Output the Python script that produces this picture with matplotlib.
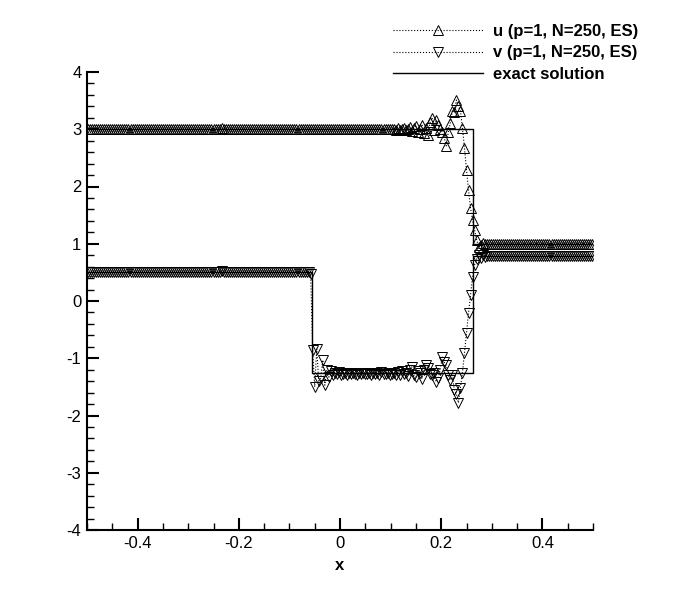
#!/usr/bin/env python3
"""
Riemann problem result: u and v from the ES scheme (p=1, N=250)
plotted against the exact solution.
"""
import numpy as np
import matplotlib
matplotlib.use('Agg')
import matplotlib.pyplot as plt
from matplotlib.ticker import MultipleLocator

# cell centres of the 250-cell grid on [-0.5, 0.5]
n_cells = 250
x = -0.5 + (np.arange(n_cells) + 0.5) / n_cells

# numerical u (10 values per row)
u_num = [
    3.0, 3.0, 3.0, 3.0, 3.0, 3.0, 3.0, 3.0, 3.0, 3.0,
    3.0, 3.0, 3.0, 3.0, 3.0, 3.0, 3.0, 3.0, 3.0, 3.0,
    3.0, 3.0, 3.0, 3.0, 3.0, 3.0, 3.0, 3.0, 3.0, 3.0,
    3.0, 3.0, 3.0, 3.0, 3.0, 3.0, 3.0, 3.0, 3.0, 3.0,
    3.0, 3.0, 3.0, 3.0, 3.0, 3.0, 3.0, 3.0, 3.0, 3.0,
    3.0, 3.0, 3.0, 3.0, 3.0, 3.0, 3.0, 3.0, 3.0, 3.0,
    3.0, 3.0, 3.0, 3.0, 3.0, 3.0, 3.03, 3.0, 3.0, 3.0,
    3.0, 3.0, 3.0, 3.0, 3.0, 3.0, 3.0, 3.0, 3.0, 3.0,
    3.0, 3.0, 3.0, 3.0, 3.0, 3.0, 3.0, 3.0, 3.0, 3.0,
    3.0, 3.0, 3.0, 3.0, 3.0, 3.0, 3.0, 3.0, 3.0, 3.0,
    3.0, 3.0, 3.0, 3.0, 3.0, 3.0, 3.0, 3.0, 3.0, 3.0,
    3.0, 3.0, 3.0, 3.0, 3.0, 3.0, 3.0, 3.0, 3.0, 3.0,
    3.0, 3.0, 3.0, 3.0, 3.0, 3.0, 3.0, 3.0, 3.0, 3.0,
    3.0, 3.0, 3.0, 3.0, 3.0, 3.0, 3.0, 3.0, 3.0, 3.0,
    3.0, 3.0, 3.0, 3.0, 3.0, 3.0, 3.0, 3.0, 3.0, 3.0,
    3.0, 3.01, 2.99, 3.02, 2.98, 3.01, 3.03, 2.98, 3.0, 3.04,
    2.97, 3.02, 3.05, 2.96, 3.0, 3.08, 2.94, 3.02, 2.9, 3.12,
    3.2, 2.98, 3.16, 3.07, 3.0, 2.95, 2.85, 2.71, 2.95, 3.11,
    3.32, 3.3, 3.51, 3.4, 3.32, 3.02, 2.67, 2.29, 1.94, 1.62,
    1.41, 1.24, 1.07, 0.95, 0.98, 1.02, 0.99, 1.0, 1.0, 1.0,
    1.0, 1.0, 1.0, 1.0, 1.0, 1.0, 1.0, 1.0, 1.0, 1.0,
    1.0, 1.0, 1.0, 1.0, 1.0, 1.0, 1.0, 1.0, 1.0, 1.0,
    1.0, 1.0, 1.0, 1.0, 1.0, 1.0, 1.0, 1.0, 1.0, 1.0,
    1.0, 1.0, 1.0, 1.0, 1.0, 1.0, 1.0, 1.0, 1.0, 1.0,
    1.0, 1.0, 1.0, 1.0, 1.0, 1.0, 1.0, 1.0, 1.0, 1.0,
]

# numerical v
v_num = [
    0.5, 0.5, 0.5, 0.5, 0.5, 0.5, 0.5, 0.5, 0.5, 0.5,
    0.5, 0.5, 0.5, 0.5, 0.5, 0.5, 0.5, 0.5, 0.5, 0.5,
    0.5, 0.5, 0.5, 0.5, 0.5, 0.5, 0.5, 0.5, 0.5, 0.5,
    0.5, 0.5, 0.5, 0.5, 0.5, 0.5, 0.5, 0.5, 0.5, 0.5,
    0.5, 0.5, 0.5, 0.5, 0.5, 0.5, 0.5, 0.5, 0.5, 0.5,
    0.5, 0.5, 0.5, 0.5, 0.5, 0.5, 0.5, 0.5, 0.5, 0.5,
    0.5, 0.5, 0.5, 0.5, 0.5, 0.5, 0.52, 0.5, 0.5, 0.5,
    0.5, 0.5, 0.5, 0.5, 0.5, 0.5, 0.5, 0.5, 0.5, 0.5,
    0.5, 0.5, 0.5, 0.5, 0.5, 0.5, 0.5, 0.5, 0.5, 0.5,
    0.5, 0.5, 0.5, 0.5, 0.5, 0.5, 0.5, 0.5, 0.5, 0.5,
    0.5, 0.5, 0.5, 0.5, 0.5, 0.5, 0.5, 0.5, 0.5, 0.5,
    0.48, -0.86, -1.5, -0.84, -1.4, -1.35, -1.03, -1.47, -1.2, -1.33,
    -1.22, -1.3, -1.26, -1.28, -1.24, -1.3, -1.27, -1.25, -1.29, -1.26,
    -1.28, -1.25, -1.27, -1.3, -1.26, -1.27, -1.25, -1.28, -1.27, -1.26,
    -1.29, -1.25, -1.27, -1.26, -1.3, -1.24, -1.28, -1.27, -1.25, -1.3,
    -1.27, -1.25, -1.29, -1.24, -1.3, -1.23, -1.28, -1.26, -1.31, -1.2,
    -1.15, -1.3, -1.33, -1.22, -1.25, -1.36, -1.2, -1.12, -1.17, -1.27,
    -1.3, -1.26, -1.41, -1.34, -1.2, -0.98, -1.07, -1.12, -1.29, -1.38,
    -1.3, -1.55, -1.62, -1.78, -1.52, -1.25, -0.91, -0.56, -0.21, 0.1,
    0.42, 0.63, 0.73, 0.8, 0.75, 0.8, 0.77, 0.78, 0.78, 0.78,
    0.78, 0.78, 0.78, 0.78, 0.78, 0.78, 0.78, 0.78, 0.78, 0.78,
    0.78, 0.78, 0.78, 0.78, 0.78, 0.78, 0.78, 0.78, 0.78, 0.78,
    0.78, 0.78, 0.78, 0.78, 0.78, 0.78, 0.78, 0.78, 0.78, 0.78,
    0.78, 0.78, 0.78, 0.78, 0.78, 0.78, 0.78, 0.78, 0.78, 0.78,
    0.78, 0.78, 0.78, 0.78, 0.78, 0.78, 0.78, 0.78, 0.78, 0.78,
]

# exact solution (piecewise constant)
u_exact_x = [-0.5, 0.2624, 0.2624, 0.5]
u_exact = [3.0, 3.0, 1.0, 1.0]
v_exact_x = [-0.5, -0.056, -0.056, 0.2624, 0.2624, 0.5]
v_exact = [0.5, 0.5, -1.25, -1.25, 0.78, 0.78]

plt.rcParams['font.family'] = ['Liberation Sans', 'DejaVu Sans']

fig = plt.figure(figsize=(6.73, 5.98), dpi=100)
ax = fig.add_axes([87 / 673, 1 - 530 / 598, (593 - 87) / 673, (530 - 72) / 598])

mk = dict(markersize=7, markerfacecolor='none', markeredgecolor='black',
          markeredgewidth=0.7, color='black', linestyle=':', linewidth=0.8)
ax.plot(x, u_num, marker='^', label='u (p=1, N=250, ES)', **mk)
ax.plot(x, v_num, marker='v', label='v (p=1, N=250, ES)', **mk)
ax.plot(u_exact_x, u_exact, color='black', linewidth=1.0, label='exact solution')
ax.plot(v_exact_x, v_exact, color='black', linewidth=1.0)

ax.set_xlim(-0.5, 0.5)
ax.set_ylim(-4, 4)
ax.xaxis.set_minor_locator(MultipleLocator(0.05))
ax.yaxis.set_minor_locator(MultipleLocator(0.2))
ax.set_xticks([-0.4, -0.2, 0, 0.2, 0.4])
ax.set_xticklabels(['-0.4', '-0.2', '0', '0.2', '0.4'])
ax.set_yticks(range(-4, 5))
ax.set_yticklabels([str(t) for t in range(-4, 5)])

for side in ['top', 'right']:
    ax.spines[side].set_visible(False)
for side in ['left', 'bottom']:
    ax.spines[side].set_linewidth(1.5)
ax.tick_params(which='major', direction='in', length=8.5, width=1.5,
               labelsize=12, pad=4)
ax.tick_params(which='minor', direction='in', length=5, width=1.0)

ax.set_xlabel('x', fontsize=12, fontweight='bold', labelpad=5)

leg = fig.legend(loc='upper left', bbox_to_anchor=(393 / 673, 1 - 24 / 598),
                 frameon=False, borderpad=0, borderaxespad=0, numpoints=1,
                 handlelength=5.4, handletextpad=0.6, labelspacing=0.38,
                 prop={'weight': 'bold', 'size': 12})

fig.savefig('out.png', dpi=100)
